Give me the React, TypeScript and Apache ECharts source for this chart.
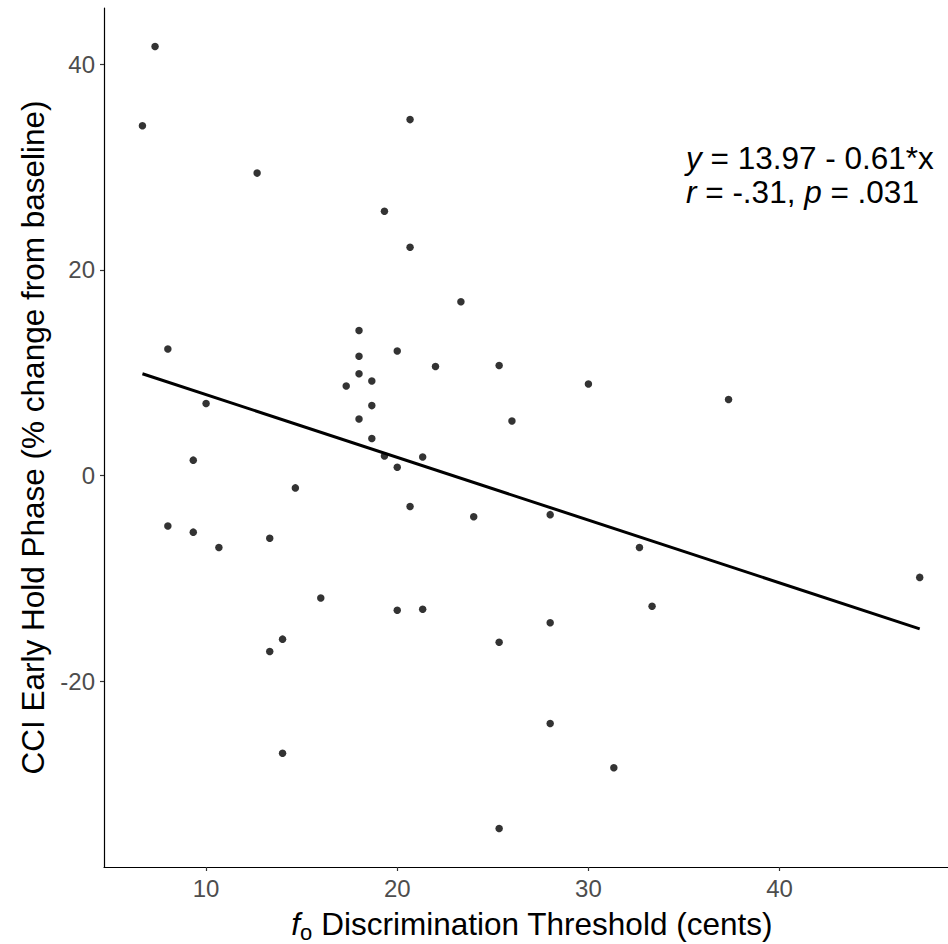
import React, { useEffect, useRef } from "react";
import * as echarts from "echarts";

// f0 discrimination threshold (cents)
const threshold = [
  6.67, 7.33, 8, 8, 9.33, 9.33, 10, 10.67, 12.67, 13.33, 13.33, 14, 14, 14.67, 16, 17.33,
  18, 18, 18, 18, 18.67, 18.67, 18.67, 19.33, 19.33, 20, 20, 20, 20.67, 20.67, 20.67,
  21.33, 21.33, 22, 23.33, 24, 25.33, 25.33, 25.33, 26, 28, 28, 28, 30, 31.33, 32.67,
  33.33, 37.33, 47.33,
];
// CCI early hold phase (% change from baseline)
const cci = [
  34.0, 41.7, 12.3, -4.9, 1.5, -5.5, 7.0, -7.0, 29.4, -6.1, -17.1, -15.9, -27.0, -1.2, -11.9, 8.7,
  14.1, 11.6, 9.9, 5.5, 9.2, 6.8, 3.6, 1.9, 25.7, 12.1, 0.8, -13.1, 34.6, 22.2, -3.0,
  1.8, -13.0, 10.6, 16.9, -4.0, 10.7, -16.2, -34.3, 5.3, -3.8, -14.3, -24.1, 8.9, -28.4, -7.0,
  -12.7, 7.4, -9.9,
];
const intercept = 13.97;
const slope = -0.61;
const xTicks = [10, 20, 30, 40];
const yTicks = [-20, 0, 20, 40];
const annotationLine1 = "{i|y} = 13.97 - 0.61*x";
const annotationLine2 = "{i|r} = -.31, {i|p} = .031";
const xTitle = "{i|f}{sub|o} Discrimination Threshold (cents)";
const yTitle = "CCI Early Hold Phase (% change from baseline)";

const FONT = "'Liberation Sans', Arial, Helvetica, sans-serif";

export default function App() {
  const ref = useRef<HTMLDivElement>(null);
  useEffect(() => {
    if (!ref.current) return;
    const chart = echarts.init(ref.current, undefined, { renderer: "svg" });
    const points = threshold.map((x, i) => [x, cci[i]]);
    const minX = Math.min(...threshold);
    const maxX = Math.max(...threshold);
    const fitLine = [
      [minX, intercept + slope * minX],
      [maxX, intercept + slope * maxX],
    ];
    chart.setOption({
      animation: false,
      backgroundColor: "#ffffff",
      grid: {
        left: 104,
        right: 0,
        top: 8,
        bottom: 77,
        containLabel: false,
        outerBoundsMode: "none",
      },
      xAxis: {
        type: "value",
        min: 4.66,
        max: 48.81,
        name: xTitle,
        nameLocation: "middle",
        nameGap: 38,
        nameTextStyle: {
          color: "#000",
          fontSize: 31.5,
          fontFamily: FONT,
          padding: [0, 0, 0, 12],
          rich: {
            i: { fontStyle: "italic", fontSize: 31.5, fontFamily: FONT, color: "#000" },
            sub: { fontSize: 22, fontFamily: FONT, color: "#000", padding: [16, 0, 0, 0] },
          },
        },
        splitLine: { show: false },
        axisLine: { show: true, onZero: false, lineStyle: { color: "#000", width: 1.2 } },
        axisTick: { show: true, length: 4, customValues: xTicks, lineStyle: { color: "#333", width: 1.2 } },
        axisLabel: { customValues: xTicks, margin: 9, color: "#4D4D4D", fontSize: 24, fontFamily: FONT },
      },
      yAxis: {
        type: "value",
        min: -38.05,
        max: 45.45,
        name: yTitle,
        nameLocation: "middle",
        nameGap: 55,
        nameTextStyle: { color: "#000", fontSize: 31.5, fontFamily: FONT },
        splitLine: { show: false },
        axisLine: { show: true, onZero: false, lineStyle: { color: "#000", width: 1.2 } },
        axisTick: { show: true, length: 4, customValues: yTicks, lineStyle: { color: "#333", width: 1.2 } },
        axisLabel: { customValues: yTicks, margin: 9, color: "#4D4D4D", fontSize: 24, fontFamily: FONT },
      },
      graphic: [
        {
          type: "text",
          x: 686,
          y: 141,
          style: {
            text: annotationLine1 + "\n" + annotationLine2,
            fontSize: 31.5,
            fontFamily: FONT,
            fill: "#000",
            lineHeight: 34,
            verticalAlign: "top",
            rich: {
              i: { fontStyle: "italic", fontSize: 31.5, fontFamily: FONT, fill: "#000", lineHeight: 34 },
            },
          },
        },
      ],
      series: [
        {
          type: "scatter",
          data: points,
          symbol: "circle",
          symbolSize: 7.5,
          itemStyle: { color: "#000" },
          z: 3,
        },
        {
          type: "line",
          data: fitLine,
          showSymbol: false,
          symbol: "none",
          lineStyle: { color: "#000", width: 3 },
          z: 2,
        },
      ],
    });
    return () => chart.dispose();
  }, []);
  return (
    <div
      ref={ref}
      style={{ position: "absolute", left: 0, top: 0, width: 948, height: 944 }}
    />
  );
}
